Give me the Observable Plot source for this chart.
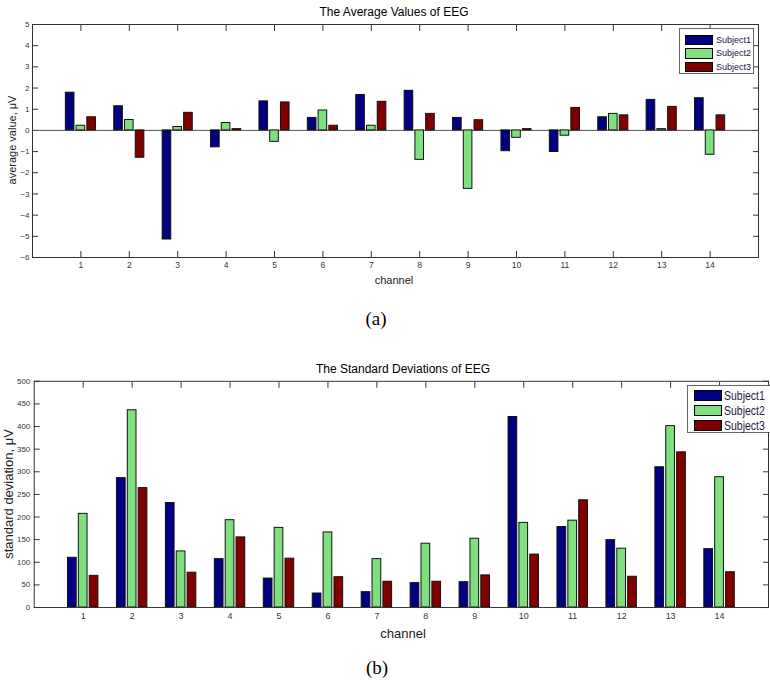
<!DOCTYPE html>
<html><head><meta charset="utf-8">
<script src="https://cdn.jsdelivr.net/npm/d3@7"></script>
<script src="https://cdn.jsdelivr.net/npm/@observablehq/plot@0.6"></script>
<style>
body{margin:0;background:#fff;}
#wrap{position:relative;width:770px;height:683px;overflow:hidden;font-family:"Liberation Sans",Arial,sans-serif;color:#000;}
.abs{position:absolute;white-space:nowrap;line-height:1;transform:translate(-50%,-50%);}
.rot{transform:translate(-50%,-50%) rotate(-90deg);}
.plot{position:absolute;left:0;}
.legend{position:absolute;background:#fff;border:1px solid #666;box-sizing:border-box;}
.sw{position:absolute;border:1px solid #000;box-sizing:border-box;}
.lt{position:absolute;line-height:1;color:#222244;white-space:nowrap;transform-origin:0 50%;}
</style></head><body><div id="wrap"></div>
<script>
const channels = [1,2,3,4,5,6,7,8,9,10,11,12,13,14];
const subjects = ["Subject1","Subject2","Subject3"];
const colors = ["#000080","#80e080","#800000"];

// (a) average values, µV
const avgS1 = [1.78, 1.14, -5.15, -0.80, 1.37, 0.59, 1.67, 1.87, 0.59, -0.98, -1.02, 0.62, 1.44, 1.52];
const avgS2 = [0.22, 0.49, 0.16, 0.35, -0.54, 0.94, 0.22, -1.39, -2.76, -0.35, -0.25, 0.78, 0.06, -1.15];
const avgS3 = [0.62, -1.29, 0.83, 0.06, 1.32, 0.22, 1.35, 0.78, 0.48, 0.06, 1.06, 0.71, 1.11, 0.71];
const avgTicks = [-6,-5,-4,-3,-2,-1,0,1,2,3,4,5];

// (b) standard deviations, µV
const sdS1 = [110, 286, 231, 107, 64, 31, 34, 54, 56, 421, 178, 149, 310, 129];
const sdS2 = [207, 436, 124, 193, 176, 166, 107, 141, 152, 187, 192, 130, 401, 288];
const sdS3 = [70, 264, 77, 155, 108, 67, 57, 57, 71, 117, 237, 68, 343, 78];
const sdTicks = [0,50,100,150,200,250,300,350,400,450,500];

function rows(series){
  const out = [];
  channels.forEach((c,i)=>series.forEach((s,k)=>out.push({channel:c, subject:subjects[k], k, value:s[i]})));
  return out;
}
const avgData = rows([avgS1, avgS2, avgS3]);
const sdData = rows([sdS1, sdS2, sdS3]);

const GROUP = 0.222, BARW = 0.178;
const barX1 = d => d.channel + (d.k-1)*GROUP - BARW/2;
const barX2 = d => d.channel + (d.k-1)*GROUP + BARW/2;
const tickCol = "#333348";

function chart({data, yDomain, yTicks, width, height, mt, mr, mb, ml, xFont, yFont, xPad, yPad, zeroLine}){
  return Plot.plot({
    width, height, marginTop:mt, marginRight:mr, marginBottom:mb, marginLeft:ml,
    x:{domain:[0,15]},
    y:{domain:yDomain},
    color:{domain:subjects, range:colors},
    style:{fontFamily:"'Liberation Sans', Arial, sans-serif", background:"transparent", overflow:"visible"},
    marks:[
      Plot.axisX(channels, {anchor:"bottom", tickSize:-6, tickPadding:xPad, fontSize:xFont, color:tickCol, label:null}),
      Plot.axisX(channels, {anchor:"top", tickSize:-6, tickFormat:()=>"", color:tickCol, label:null}),
      Plot.axisY(yTicks, {anchor:"left", tickSize:-6, tickPadding:yPad, fontSize:yFont, color:tickCol, label:null}),
      Plot.axisY(yTicks, {anchor:"right", tickSize:-6, tickFormat:()=>"", color:tickCol, label:null}),
      zeroLine ? Plot.ruleY([0], {stroke:"#555", strokeWidth:1}) : null,
      Plot.rect(data, {x1:barX1, x2:barX2, y1:0, y2:"value", fill:"subject", stroke:"#111", strokeWidth:1}),
      Plot.frame({stroke:"#333"})
    ]
  });
}

const wrap = document.getElementById("wrap");
function add(el, top){ el.classList.add("plot"); el.style.top = top+"px"; wrap.appendChild(el); }
function text(str, x, y, size, extra){
  const d = document.createElement("div");
  d.className = "abs" + (extra && extra.rot ? " rot" : "");
  d.textContent = str;
  d.style.left = x+"px"; d.style.top = y+"px"; d.style.fontSize = size+"px";
  if (extra && extra.font) d.style.fontFamily = extra.font;
  if (extra && extra.color) d.style.color = extra.color;
  wrap.appendChild(d);
}
function legend(x, y, w, h, swX, swW, swH, rowTops, txtX, fontSize, sx){
  const box = document.createElement("div");
  box.className = "legend";
  Object.assign(box.style, {left:x+"px", top:y+"px", width:w+"px", height:h+"px"});
  subjects.forEach((s,i)=>{
    const sw = document.createElement("div");
    sw.className = "sw";
    Object.assign(sw.style, {left:(swX-x)+"px", top:(rowTops[i]-y)+"px", width:swW+"px", height:swH+"px", background:colors[i]});
    box.appendChild(sw);
    const t = document.createElement("div");
    t.className = "lt";
    t.textContent = s;
    Object.assign(t.style, {left:(txtX-x)+"px", top:(rowTops[i]-y + swH/2)+"px", fontSize:fontSize+"px", transform:`translateY(-50%) scaleX(${sx})`});
    box.appendChild(t);
  });
  wrap.appendChild(box);
}

// Chart (a)
add(chart({data:avgData, yDomain:[-6,5], yTicks:avgTicks, width:770, height:290, mt:24, mr:12, mb:33, ml:32,
  xFont:8.5, yFont:8, xPad:10, yPad:9, zeroLine:true}), 0);
text("The Average Values of EEG", 394, 12, 12);
text("average value, \u03bcV", 12, 140, 11, {rot:true, color:"#222"});
text("channel", 394, 280, 11, {color:"#222"});
text("(a)", 376, 318, 19, {font:"'Liberation Serif', 'Times New Roman', serif"});
legend(679, 28, 75, 46, 684, 28, 10.5, [33.5, 47, 60.5], 714.5, 9.5, 0.95);

// Chart (b)
add(chart({data:sdData, yDomain:[0,500], yTicks:sdTicks, width:776, height:290, mt:26, mr:2, mb:36, ml:34,
  xFont:9, yFont:8, xPad:11, yPad:10, zeroLine:false}), 355);
text("The Standard Deviations of EEG", 403, 369, 12);
text("standard deviation, \u03bcV", 8, 494, 13, {rot:true, color:"#222"});
text("channel", 403, 633, 13, {color:"#222"});
text("(b)", 377, 667, 19, {font:"'Liberation Serif', 'Times New Roman', serif"});
legend(687, 385, 100, 48, 693, 28, 11, [389, 404, 419], 723, 12.5, 0.84);
</script>
</body></html>
